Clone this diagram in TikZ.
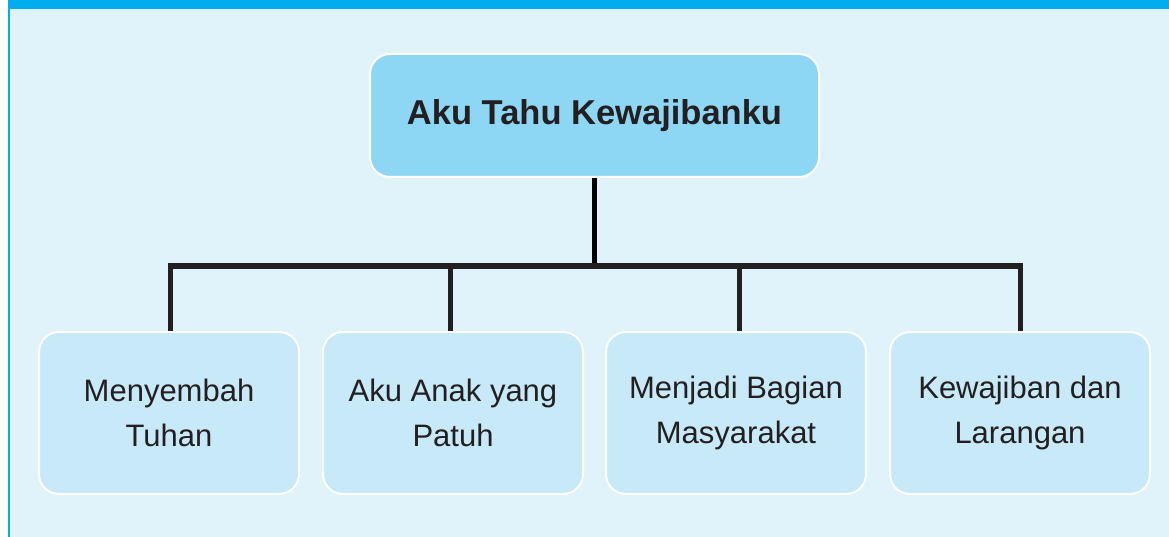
\documentclass[tikz,border=0pt]{standalone}
\usepackage{xcolor}
\usepackage{fontspec}
\setmainfont{Liberation Sans}
\usepackage{tikz}
\usetikzlibrary{positioning}
\definecolor{barcyan}{HTML}{00AEEF}
\definecolor{pagebg}{HTML}{E0F3FA}
\definecolor{topfill}{HTML}{8DD7F5}
\definecolor{subfill}{HTML}{C7E9F8}
\definecolor{inkdark}{HTML}{231F20}

\begin{document}
\begin{tikzpicture}[x=1pt,y=-1pt,
							every node/.style={rounded corners=20pt,draw=white,line width=2pt,align=center,text=inkdark},
							topbox/.style={fill=topfill,minimum width=449pt,minimum height=123pt,font=\fontsize{34.5}{40}\selectfont\bfseries},
							subbox/.style={fill=subfill,minimum width=260pt,minimum height=162pt,font=\fontsize{31}{45}\selectfont},
							conn/.style={draw=inkdark,line width=5pt}]
			\useasboundingbox (0,0) rectangle (1169,537);
			\fill[white] (0,0) rectangle (1169,537);
			\filldraw[fill=pagebg,draw=barcyan,line width=2pt] (8.5,0) rectangle (1172,540);
			\fill[barcyan] (7.5,0) rectangle (1169,9);
			\node[topbox] (kewajiban) at (594.5,115.5) {Aku Tahu Kewajibanku};
			\coordinate (cabang) at (594.5,266);
			\node[subbox] (menyembah) at (169,413) {Menyembah\\Tuhan};
			\node[subbox] (anak) at (453,413) {Aku Anak yang\\Patuh};
			\node[subbox] (masyarakat) at (736,413) {Menjadi Bagian\\Masyarakat};
			\node[subbox] (larangan) at (1020,413) {Kewajiban dan\\Larangan};
			\draw[conn,draw=black] (kewajiban.south) -- (cabang);
			\draw[conn] (cabang) -| ([xshift=1pt]menyembah.north);
			\draw[conn] (cabang) -| ([xshift=-3pt]anak.north);
			\draw[conn] (cabang) -| ([xshift=3pt]masyarakat.north);
			\draw[conn] (cabang) -| (larangan.north);
		\end{tikzpicture}
\end{document}
